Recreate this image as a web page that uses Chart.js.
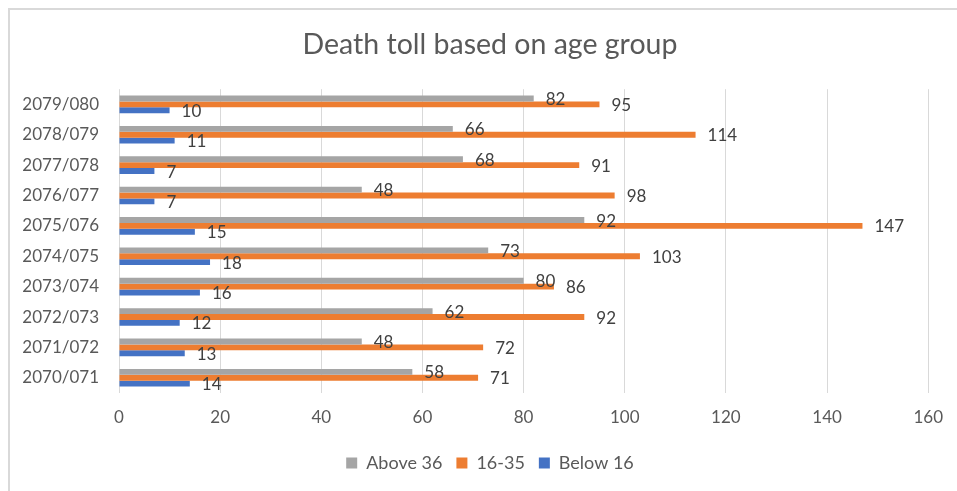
<!DOCTYPE html>
<html>
<head>
<meta charset="utf-8">
<script src="https://cdn.jsdelivr.net/npm/chart.js@4.4.1/dist/chart.umd.min.js"></script>
<style>
  html, body { margin: 0; padding: 0; background: #ffffff; overflow: hidden; }
  #frame { position: absolute; left: 8px; top: 8px; width: 1200px; height: 800px;
           border-left: 2px solid #d9d9d9; border-top: 2px solid #d9d9d9; }
  #c { position: absolute; left: 0; top: 0; }
</style>
</head>
<body>
<div id="frame"></div>
<canvas id="c" width="957" height="491"></canvas>
<script>
// ---- Data ----
const categories = ['2070/071','2071/072','2072/073','2073/074','2074/075','2075/076','2076/077','2077/078','2078/079','2079/080'];
const above36 = [58, 48, 62, 80, 73, 92, 48, 68, 66, 82];
const age16to35 = [71, 72, 92, 86, 103, 147, 98, 91, 114, 95];
const below16 = [14, 13, 12, 16, 18, 15, 7, 7, 11, 10];
const seriesNames = ['Above 36', '16-35', 'Below 16'];
const xTicks = [0, 20, 40, 60, 80, 100, 120, 140, 160];
const chartTitle = 'Death toll based on age group';

const FONT = 'Lato, "Open Sans", sans-serif';

const valueLabels = {
  id: 'valueLabels',
  afterDatasetsDraw(chart) {
    const ctx = chart.ctx;
    ctx.save();
    ctx.font = '17px ' + FONT;
    ctx.fillStyle = '#404040';
    ctx.textAlign = 'left';
    ctx.textBaseline = 'middle';
    chart.data.datasets.forEach((ds, di) => {
      const meta = chart.getDatasetMeta(di);
      meta.data.forEach((el, i) => {
        ctx.fillText(String(ds.data[i]), el.x + 12, el.y + 1);
      });
    });
    ctx.restore();
  }
};

// Centre the title and legend on the whole chart frame (as in the reference)
const frameCentre = {
  id: 'frameCentre',
  afterLayout(chart) {
    if (chart.titleBlock) chart.titleBlock.left = 50;
    if (chart.legend) chart.legend.left = 50;
  }
};

new Chart(document.getElementById('c'), {
  type: 'bar',
  data: {
    labels: categories,
    datasets: [
      { label: seriesNames[0], data: above36, backgroundColor: '#A5A5A5' },
      { label: seriesNames[1], data: age16to35, backgroundColor: '#ED7D31' },
      { label: seriesNames[2], data: below16, backgroundColor: '#4472C4' }
    ]
  },
  options: {
    indexAxis: 'y',
    responsive: false,
    animation: false,
    devicePixelRatio: 1,
    categoryPercentage: 0.58,
    barPercentage: 1.0,
    layout: { padding: { left: 0, right: 27, top: 0, bottom: 9 } },
    scales: {
      x: {
        min: 0, max: 160,
        afterBuildTicks(scale) { scale.ticks = xTicks.map(v => ({ value: v })); },
        afterFit(scale) { scale.height = 47; },
        grid: { color: '#d9d9d9', lineWidth: 1, drawTicks: false },
        border: { display: false },
        ticks: { padding: 14, color: '#595959', font: { family: FONT, size: 17 } }
      },
      y: {
        reverse: true,
        afterFit(scale) { scale.width = 119; },
        grid: { display: false, drawTicks: false },
        border: { display: false },
        ticks: { padding: 20, color: '#595959', font: { family: FONT, size: 17 } }
      }
    },
    plugins: {
      title: {
        display: true,
        text: chartTitle,
        color: '#595959',
        font: { family: FONT, size: 28.5, weight: 'normal' },
        padding: { top: 28, bottom: 27 }
      },
      legend: {
        position: 'bottom',
        labels: {
          boxWidth: 11, boxHeight: 11, padding: 14,
          color: '#595959',
          font: { family: FONT, size: 18 }
        }
      },
      tooltip: { enabled: false }
    }
  },
  plugins: [valueLabels, frameCentre]
});
</script>
</body>
</html>
